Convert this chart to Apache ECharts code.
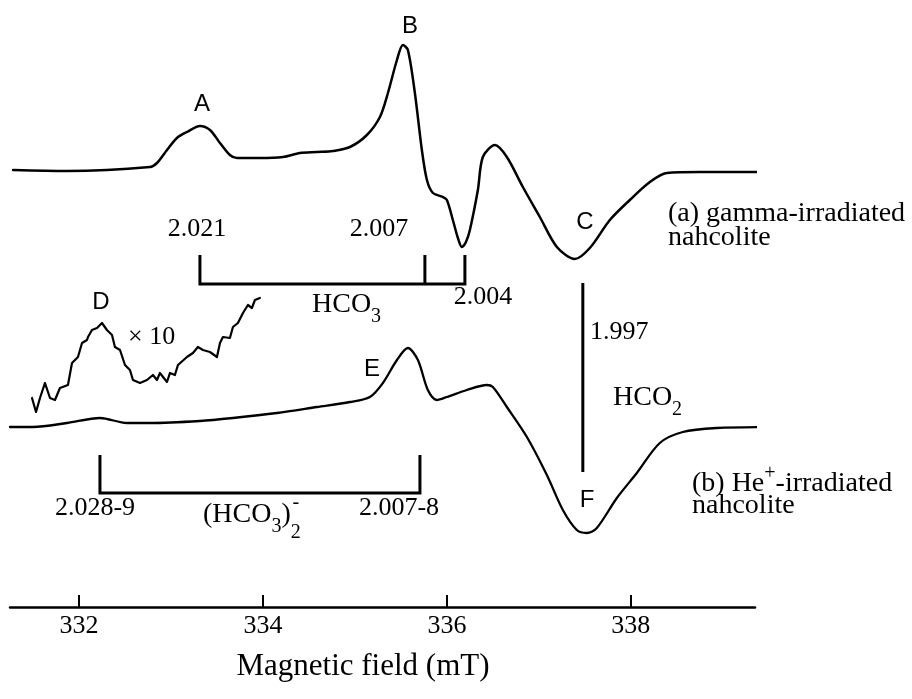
<!DOCTYPE html>
<html>
<head>
<meta charset="utf-8">
<title>EPR spectra of irradiated nahcolite</title>
<script src="https://cdn.jsdelivr.net/npm/echarts@6/dist/echarts.min.js"></script>
<style>
  html, body { margin: 0; padding: 0; background: #fff; }
  #chart { width: 912px; height: 699px; }
</style>
</head>
<body>
<div id="chart"></div>
<script>
// ---- Spectrum (a): gamma-irradiated nahcolite (field in mT, first-derivative signal in a.u.)
const fieldA = [331.283, 331.870, 332.772, 332.848, 332.957, 333.065, 333.174, 333.315, 333.424, 333.533,
                333.641, 333.717, 333.967, 334.217, 334.402, 334.587, 334.761, 334.946, 335.130, 335.272,
                335.359, 335.457, 335.522, 335.576, 335.652, 335.728, 335.783, 335.848, 335.957, 336.000,
                336.065, 336.120, 336.163, 336.207, 336.250, 336.337, 336.391, 336.522,
                336.652, 336.826, 337.011, 337.196, 337.391, 337.554, 337.772, 337.989, 338.207, 338.391,
                338.750, 339.478];
const signalA = [0.0, -0.1, 0.3, 0.7, 2.0, 3.2, 3.8, 4.4, 4.0, 2.7,
                 1.5, 1.2, 1.2, 1.3, 1.7, 1.8, 1.9, 2.3, 3.5, 5.3,
                 7.7, 11.0, 12.5, 12.0, 7.7, 2.0, -1.0, -2.3, -2.7, -3.0,
                 -5.0, -6.8, -7.7, -7.2, -6.0, -2.0, 1.3, 2.5,
                 1.3, -1.7, -4.7, -7.7, -8.9, -7.8, -5.0, -3.0, -1.2, -0.3,
                 -0.2, -0.2];

// ---- Spectrum (b): He+-irradiated nahcolite
const fieldB = [331.250, 331.500, 331.870, 332.228, 332.522, 332.772, 333.315, 333.674, 334.152, 334.587,
                334.946, 335.163, 335.304, 335.457, 335.576, 335.685, 335.793, 335.891, 336.000, 336.217,
                336.435, 336.500, 336.652, 336.870, 337.087, 337.261, 337.413, 337.522, 337.630, 337.848,
                338.065, 338.315, 338.565, 338.935, 339.478];
const signalB = [0.0, 0.0, 0.4, 0.9, 0.4, 0.4, 0.6, 0.9, 1.4, 2.0,
                 2.5, 3.0, 4.4, 6.7, 7.9, 6.7, 3.7, 2.7, 3.0, 3.7,
                 4.2, 4.0, 2.0, -1.0, -4.8, -8.3, -10.3, -10.6, -10.1, -7.1,
                 -4.6, -1.6, -0.5, -0.1, 0.0];

// ---- Low-field part of (b) recorded at x10 gain (offset trace)
const fieldD = [331.489, 331.533, 331.576, 331.630, 331.685, 331.739, 331.793, 331.880, 331.924, 331.989,
                332.033, 332.087, 332.098, 332.141, 332.196, 332.250, 332.304, 332.359, 332.391, 332.446,
                332.500, 332.554, 332.587, 332.663, 332.739, 332.804, 332.848, 332.880, 332.957, 332.989,
                333.043, 333.076, 333.174, 333.239, 333.293, 333.348, 333.424, 333.500, 333.533, 333.565,
                333.641, 333.674, 333.728, 333.783, 333.837, 333.880, 333.913, 333.967];
const signalD = [2.9, 1.5, 2.9, 4.4, 2.9, 2.7, 3.9, 4.2, 6.4, 7.0,
                 8.4, 8.7, 9.0, 9.7, 9.9, 10.4, 9.7, 9.2, 8.0, 7.7,
                 6.2, 5.7, 4.7, 4.4, 4.7, 5.2, 4.7, 5.4, 4.5, 5.4,
                 5.2, 6.2, 7.0, 7.4, 8.0, 7.7, 7.5, 7.0, 8.4, 9.0,
                 8.9, 10.0, 10.4, 11.4, 12.2, 11.9, 12.7, 12.9];

// ---- g-value markers (field positions in mT)
const hco3Fields = [333.315, 335.761, 336.196];
const hco3Labels = ['2.021', '2.007', '2.004'];
const hco2Field = 337.478;
const hco2Label = '1.997';
const dimerFields = [332.228, 335.707];
const dimerLabels = ['2.028-9', '2.007-8'];

// ---- Field axis
const fieldTicks = [332, 334, 336, 338];
const fieldMin = 331.25;
const fieldMax = 339.35;

const SERIF = '"Liberation Serif", "Times New Roman", serif';
const SANS = '"Liberation Sans", Arial, sans-serif';
const INK = '#000';

const zip = (xs, ys) => xs.map((x, i) => [x, ys[i]]);

function traceSeries(data, axis, width, smooth) {
  return {
    type: 'line', yAxisIndex: axis, data: data, showSymbol: false, symbol: 'none',
    smooth: smooth, clip: false, silent: true,
    lineStyle: { color: INK, width: width, join: 'round', cap: 'round' }
  };
}
function segment(points, axis, width) {
  return {
    type: 'line', yAxisIndex: axis, data: points, showSymbol: false, symbol: 'none',
    clip: false, silent: true, lineStyle: { color: INK, width: width, join: 'miter', cap: 'butt' }
  };
}
// bracket: outer legs joined by a bar, inner legs as separate ticks
function bracket(fields, top, bottom, axis) {
  const first = fields[0], last = fields[fields.length - 1];
  const out = [segment([[first, top], [first, bottom], [last, bottom], [last, top]], axis, 3)];
  fields.slice(1, -1).forEach(f => out.push(segment([[f, top], [f, bottom]], axis, 3)));
  return out;
}

// text helpers for the annotations
const measureCtx = document.createElement('canvas').getContext('2d');
function textWidth(t, size, fam) { measureCtx.font = size + 'px ' + fam; return measureCtx.measureText(t).width; }
function label(t, x, y, size, fam, align) {
  const a = align || 'left';
  return { type: 'text', x: x, y: y, silent: true, z: 100,
    style: { text: t, fill: INK, font: size + 'px ' + fam,
             textAlign: a, textVerticalAlign: 'middle', align: a, verticalAlign: 'middle' } };
}
// a run of pieces [text, dy, size] laid out left to right (sub/superscripts)
function run(pieces, x, y, fam) {
  const out = []; let cx = x;
  pieces.forEach(([t, dy, size]) => { out.push(label(t, cx, y + dy, size, fam, 'left')); cx += textWidth(t, size, fam); });
  return out;
}

const G = 26, F = 28, L = 24;
const texts = [
  label('A', 202, 104, L, SANS, 'center'),
  label('B', 410, 26, L, SANS, 'center'),
  label('C', 585, 222, L, SANS, 'center'),
  label('D', 101, 302, L, SANS, 'center'),
  label('E', 372, 369, L, SANS, 'center'),
  label('F', 587, 500, L, SANS, 'center'),
  label(hco3Labels[0], 197, 229, G, SERIF, 'center'),
  label(hco3Labels[1], 379, 229, G, SERIF, 'center'),
  label(hco3Labels[2], 483, 297, G, SERIF, 'center'),
  label(hco2Label, 590, 332, G, SERIF, 'left'),
  label(dimerLabels[0], 95, 508, G, SERIF, 'center'),
  label(dimerLabels[1], 399, 508, G, SERIF, 'center'),
  label('\u00d7 10', 128, 337, G, SERIF, 'left'),
  label('(a) gamma-irradiated', 668, 214, F, SERIF, 'left'),
  label('nahcolite', 668, 238, F, SERIF, 'left'),
  label('nahcolite', 692, 506, F, SERIF, 'left'),
  label('Magnetic field (mT)', 363, 667, 31, SERIF, 'center')
].concat(
  run([['HCO', 0, F], ['3', 12, 20]], 312, 305, SERIF),
  run([['HCO', 0, F], ['2', 12, 20]], 613, 398, SERIF),
  run([['(b) He', 0, F], ['+', -10, 20], ['-irradiated', 0, F]], 692, 484, SERIF),
  run([['(HCO', 0, F], ['3', 12, 20], [')', 0, F], ['2', 18, 20]], 203, 515, SERIF)
);
// superscript minus over the dimer's subscript 2
(function () {
  const x = 203 + textWidth('(HCO', F, SERIF) + textWidth('3', 20, SERIF) + textWidth(')', F, SERIF) + textWidth('2', 20, SERIF) / 2;
  texts.push(label('-', x, 503, 20, SERIF, 'center'));
})();

const chart = echarts.init(document.getElementById('chart'), null, { renderer: 'canvas' });
chart.setOption({
  animation: false,
  backgroundColor: '#fff',
  grid: { left: 10, right: 157, top: 0, bottom: 92, containLabel: false },
  xAxis: {
    type: 'value', min: fieldMin, max: fieldMax,
    axisLine: { show: true, onZero: false, lineStyle: { color: INK, width: 2.5 } },
    axisTick: { show: true, inside: true, length: 12, customValues: fieldTicks, lineStyle: { color: INK, width: 2 } },
    axisLabel: { customValues: fieldTicks, color: INK, fontFamily: SERIF, fontSize: 26, margin: 6 },
    splitLine: { show: false }
  },
  yAxis: [
    { type: 'value', min: -43.7, max: 17, show: false },
    { type: 'value', min: -18, max: 42.7, show: false }
  ],
  series: [
    traceSeries(zip(fieldA, signalA), 0, 2.5, 0.3),
    traceSeries(zip(fieldB, signalB), 1, 2.3, 0.3),
    traceSeries(zip(fieldD, signalD), 1, 2.2, false),
    ...bracket(hco3Fields, -8.5, -11.4, 0),
    ...bracket(dimerFields, -2.8, -6.6, 1),
    segment([[hco2Field, 14.4], [hco2Field, -4.5]], 1, 3)
  ],
  graphic: texts
});
</script>
</body>
</html>
